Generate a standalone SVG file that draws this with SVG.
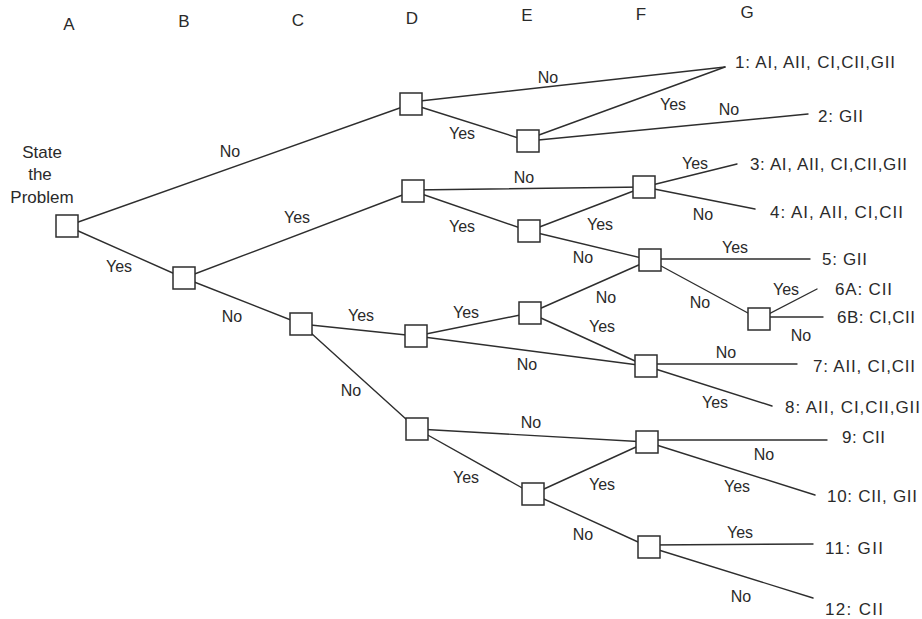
<svg xmlns="http://www.w3.org/2000/svg" width="922" height="619" viewBox="0 0 922 619">
<style>
  .bg { fill: #ffffff; }
  .edge { stroke: #2e2e2e; stroke-width: 1.4; fill: none; stroke-linecap: round; }
  .box { fill: #ffffff; stroke: #2e2e2e; stroke-width: 1.5; }
  text { font-family: "Liberation Sans", Arial, sans-serif; fill: #2a2a2a; }
  .col { font-size: 17px; text-anchor: middle; }
  .lbl { font-size: 16px; text-anchor: middle; }
  .start { font-size: 17px; text-anchor: middle; }
  .out { font-size: 17px; }
</style>
<rect class="bg" x="0" y="0" width="922" height="619"/>

<g id="column-headers">
  <text class="col" x="69" y="30">A</text>
  <text class="col" x="184" y="27">B</text>
  <text class="col" x="298" y="26">C</text>
  <text class="col" x="412" y="24">D</text>
  <text class="col" x="527" y="21">E</text>
  <text class="col" x="641" y="20">F</text>
  <text class="col" x="747" y="18">G</text>
</g>

<g id="connectors">
  <!-- A -->
  <line class="edge" x1="67" y1="226" x2="411" y2="104"/>
  <line class="edge" x1="67" y1="226" x2="184" y2="278"/>
  <!-- B -->
  <line class="edge" x1="184" y1="278" x2="413" y2="191"/>
  <line class="edge" x1="184" y1="278" x2="301" y2="324"/>
  <!-- C -->
  <line class="edge" x1="301" y1="324" x2="416" y2="336"/>
  <line class="edge" x1="301" y1="324" x2="417" y2="429"/>
  <!-- D1 -->
  <line class="edge" x1="411" y1="102" x2="725" y2="67"/>
  <line class="edge" x1="411" y1="104" x2="528" y2="141"/>
  <!-- E1 -->
  <line class="edge" x1="528" y1="139" x2="725" y2="67"/>
  <line class="edge" x1="528" y1="141" x2="808" y2="114"/>
  <!-- D2 -->
  <line class="edge" x1="413" y1="190" x2="644" y2="187"/>
  <line class="edge" x1="413" y1="191" x2="529" y2="231"/>
  <!-- E2 -->
  <line class="edge" x1="529" y1="231" x2="644" y2="187"/>
  <line class="edge" x1="529" y1="231" x2="650" y2="260"/>
  <!-- F1 -->
  <line class="edge" x1="644" y1="187" x2="737" y2="164"/>
  <line class="edge" x1="644" y1="187" x2="755" y2="209"/>
  <!-- F2 -->
  <line class="edge" x1="650" y1="259" x2="810" y2="259"/>
  <line class="edge" x1="650" y1="260" x2="759" y2="319"/>
  <!-- G6 -->
  <line class="edge" x1="759" y1="319" x2="817" y2="289"/>
  <line class="edge" x1="759" y1="317" x2="823" y2="317"/>
  <!-- D3 -->
  <line class="edge" x1="416" y1="336" x2="530" y2="313"/>
  <line class="edge" x1="416" y1="336" x2="646" y2="366"/>
  <!-- E3 -->
  <line class="edge" x1="530" y1="313" x2="650" y2="260"/>
  <line class="edge" x1="530" y1="313" x2="646" y2="366"/>
  <!-- F3 -->
  <line class="edge" x1="646" y1="364" x2="797" y2="364"/>
  <line class="edge" x1="646" y1="366" x2="772" y2="406"/>
  <!-- D4 -->
  <line class="edge" x1="417" y1="429" x2="647" y2="442"/>
  <line class="edge" x1="417" y1="429" x2="533" y2="494"/>
  <!-- E4 -->
  <line class="edge" x1="533" y1="494" x2="647" y2="442"/>
  <line class="edge" x1="533" y1="494" x2="649" y2="547"/>
  <!-- F4 -->
  <line class="edge" x1="647" y1="440" x2="827" y2="440"/>
  <line class="edge" x1="647" y1="442" x2="815" y2="495"/>
  <!-- F5 -->
  <line class="edge" x1="649" y1="545" x2="813" y2="544"/>
  <line class="edge" x1="649" y1="547" x2="813" y2="598"/>
</g>

<g id="edge-labels">
  <text class="lbl" x="230" y="157">No</text>
  <text class="lbl" x="119" y="272">Yes</text>
  <text class="lbl" x="297" y="223">Yes</text>
  <text class="lbl" x="232" y="322">No</text>
  <text class="lbl" x="361" y="321">Yes</text>
  <text class="lbl" x="351" y="396">No</text>
  <text class="lbl" x="548" y="83">No</text>
  <text class="lbl" x="462" y="139">Yes</text>
  <text class="lbl" x="673" y="110">Yes</text>
  <text class="lbl" x="729" y="115">No</text>
  <text class="lbl" x="524" y="183">No</text>
  <text class="lbl" x="462" y="232">Yes</text>
  <text class="lbl" x="600" y="230">Yes</text>
  <text class="lbl" x="583" y="263">No</text>
  <text class="lbl" x="695" y="169">Yes</text>
  <text class="lbl" x="703" y="220">No</text>
  <text class="lbl" x="735" y="253">Yes</text>
  <text class="lbl" x="700" y="308">No</text>
  <text class="lbl" x="786" y="295">Yes</text>
  <text class="lbl" x="801" y="341">No</text>
  <text class="lbl" x="466" y="318">Yes</text>
  <text class="lbl" x="527" y="370">No</text>
  <text class="lbl" x="606" y="303">No</text>
  <text class="lbl" x="602" y="332">Yes</text>
  <text class="lbl" x="726" y="358">No</text>
  <text class="lbl" x="715" y="408">Yes</text>
  <text class="lbl" x="531" y="428">No</text>
  <text class="lbl" x="466" y="483">Yes</text>
  <text class="lbl" x="602" y="490">Yes</text>
  <text class="lbl" x="583" y="540">No</text>
  <text class="lbl" x="764" y="460">No</text>
  <text class="lbl" x="737" y="492">Yes</text>
  <text class="lbl" x="740" y="538">Yes</text>
  <text class="lbl" x="741" y="602">No</text>
</g>

<g id="node-A">
  <text class="start" x="42" y="158">State</text>
  <text class="start" x="40" y="180">the</text>
  <text class="start" x="42" y="203">Problem</text>
  <rect class="box" x="56" y="215" width="22" height="22"/>
</g>
<g id="node-B"><rect class="box" x="173" y="267" width="22" height="22"/></g>
<g id="node-C"><rect class="box" x="290" y="313" width="22" height="22"/></g>
<g id="node-D1"><rect class="box" x="400" y="93" width="22" height="22"/></g>
<g id="node-D2"><rect class="box" x="402" y="180" width="22" height="22"/></g>
<g id="node-D3"><rect class="box" x="405" y="325" width="22" height="22"/></g>
<g id="node-D4"><rect class="box" x="406" y="418" width="22" height="22"/></g>
<g id="node-E1"><rect class="box" x="517" y="130" width="22" height="22"/></g>
<g id="node-E2"><rect class="box" x="518" y="220" width="22" height="22"/></g>
<g id="node-E3"><rect class="box" x="519" y="302" width="22" height="22"/></g>
<g id="node-E4"><rect class="box" x="522" y="483" width="22" height="22"/></g>
<g id="node-F1"><rect class="box" x="633" y="176" width="22" height="22"/></g>
<g id="node-F2"><rect class="box" x="639" y="249" width="22" height="22"/></g>
<g id="node-F3"><rect class="box" x="635" y="355" width="22" height="22"/></g>
<g id="node-F4"><rect class="box" x="636" y="431" width="22" height="22"/></g>
<g id="node-F5"><rect class="box" x="638" y="536" width="22" height="22"/></g>
<g id="node-G6"><rect class="box" x="748" y="308" width="22" height="22"/></g>

<g id="out-1"><text class="out" x="735" y="68" textLength="160" lengthAdjust="spacing">1: AI, AII, CI,CII,GII</text></g>
<g id="out-2"><text class="out" x="818" y="122" textLength="45" lengthAdjust="spacing">2: GII</text></g>
<g id="out-3"><text class="out" x="750" y="170" textLength="157" lengthAdjust="spacing">3: AI, AII, CI,CII,GII</text></g>
<g id="out-4"><text class="out" x="770" y="218" textLength="133" lengthAdjust="spacing">4: AI, AII, CI,CII</text></g>
<g id="out-5"><text class="out" x="822" y="265" textLength="45" lengthAdjust="spacing">5: GII</text></g>
<g id="out-6A"><text class="out" x="835" y="295" textLength="57" lengthAdjust="spacing">6A: CII</text></g>
<g id="out-6B"><text class="out" x="837" y="323" textLength="78" lengthAdjust="spacing">6B: CI,CII</text></g>
<g id="out-7"><text class="out" x="813" y="372" textLength="102" lengthAdjust="spacing">7: AII, CI,CII</text></g>
<g id="out-8"><text class="out" x="785" y="413" textLength="135" lengthAdjust="spacing">8: AII, CI,CII,GII</text></g>
<g id="out-9"><text class="out" x="842" y="443" textLength="43" lengthAdjust="spacing">9: CII</text></g>
<g id="out-10"><text class="out" x="827" y="502" textLength="90" lengthAdjust="spacing">10: CII, GII</text></g>
<g id="out-11"><text class="out" x="825" y="554" textLength="58" lengthAdjust="spacing">11: GII</text></g>
<g id="out-12"><text class="out" x="825" y="615" textLength="58" lengthAdjust="spacing">12: CII</text></g>
</svg>
